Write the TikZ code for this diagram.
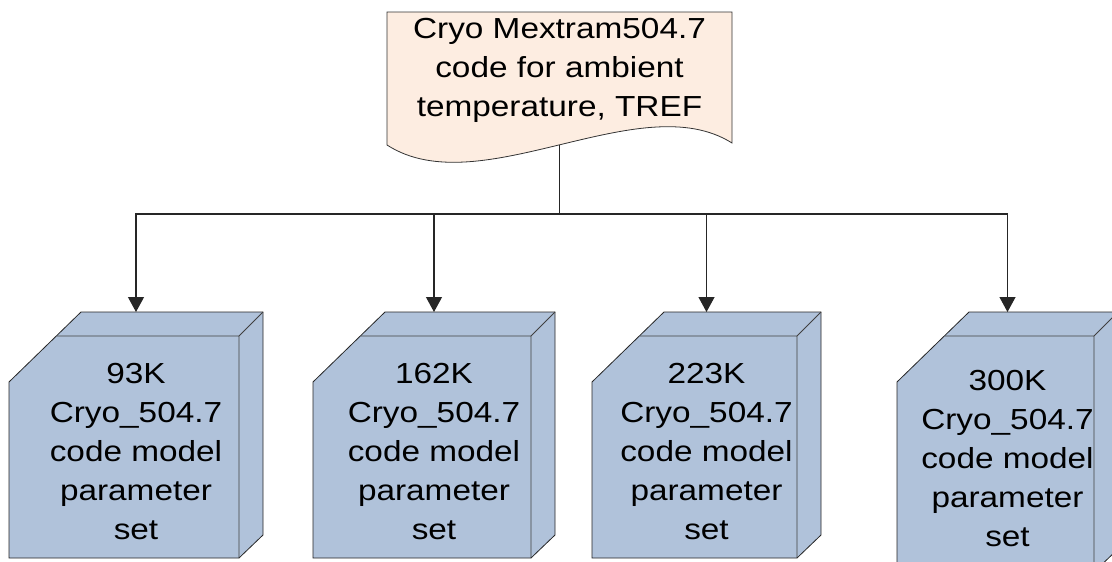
\documentclass[tikz,border=0pt]{standalone}
\usepackage{fontspec}
\setmainfont{Liberation Sans}[FakeStretch=1.15]
\usetikzlibrary{arrows.meta}
\definecolor{docfill}{RGB}{253,237,225}
\definecolor{cubefill}{RGB}{176,194,218}

\begin{document}
\begin{tikzpicture}[x=1pt,y=-1pt,
    lbl/.style={align=center,font=\fontsize{29}{39}\selectfont,inner sep=0pt},
    doc/.style={draw=black!80,fill=docfill,line width=0.8pt},
    cube/.style={draw=black!85,fill=cubefill,line width=0.8pt},
    faceline/.style={draw=black!75,line width=0.8pt},
    flow/.style={draw=black!85,line width=1.2pt,-{Triangle[length=15pt,width=16pt]}}]
    \useasboundingbox (0,0) rectangle (1112,562);
    \clip (0,0) rectangle (1112,562);
    % source document
    \draw[doc] (387,12) -- (732,12) -- (732,143)
        .. controls (640,85) and (480,205) .. (387,145) -- cycle;
    \node[lbl] (tref) at (559.5,70) {Cryo Mextram504.7\\code for ambient\\temperature, TREF};
    \coordinate (docbot) at (559.5,144.8);
    \coordinate (split) at (559.5,214);
    % parameter sets
    \foreach \n/\xl/\xr/\yb/\t in {k93/9/239/558/93K, k162/313/531/558/162K,
                                   k223/592/797/558/223K, k300/897/1094/572/300K}{
        \filldraw[cube] (\xl,\yb) -- (\xl,382) -- ({\xl+72},312) -- ({\xr+24},312)
            -- ({\xr+24},{\yb-23}) -- (\xr,\yb) -- cycle;
        \draw[faceline] ({\xl+48},336) -- (\xr,336) -- (\xr,\yb)
            (\xr,336) -- ({\xr+24},312);
        \node[lbl] (\n) at ({(\xl+\xr+24)/2},{(336+\yb)/2+5}) {\t\\Cryo\_504.7\\code model\\parameter\\set};
        \coordinate (\n-top) at ({(\xl+\xr+24)/2},312);
    }
    \draw[line width=1.2pt,black!85] (docbot) -- (split);
    \foreach \n in {k93,k162,k223,k300}
        \draw[flow] (split) -| (\n-top);
\end{tikzpicture}
\end{document}
